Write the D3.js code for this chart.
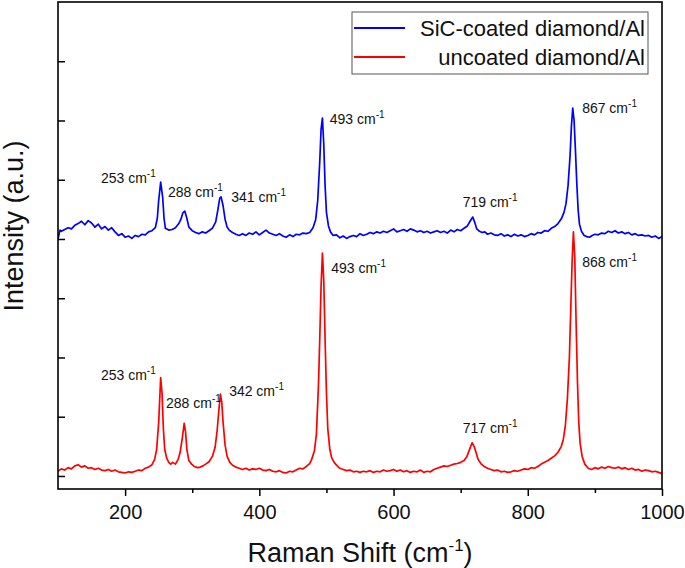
<!DOCTYPE html>
<html>
<head>
<meta charset="utf-8">
<script src="https://cdn.jsdelivr.net/npm/d3@7/dist/d3.min.js"></script>
<style>
  html, body { margin: 0; padding: 0; background: #fff; }
  svg { display: block; font-family: "Liberation Sans", Arial, sans-serif; }
</style>
</head>
<body>
<svg id="chart" width="685" height="568"></svg>
<script>
// ---------------- DATA ----------------
const xTicks = [200, 400, 600, 800, 1000];
const xMinorTicks = [300, 500, 700, 900];
const yTicks = [0, 1000, 2000, 3000, 4000, 5000, 6000, 7000];
const seriesNames = ["SiC-coated diamond/Al", "uncoated diamond/Al"];
const seriesColors = ["#0000ff", "#ff0000"];

// SiC-coated diamond/Al spectrum: [Raman shift (cm-1), intensity (a.u.)]
const sicCoated = [
 [100,4000],[103,4150],[105,4130],[110,4160],[115,4190],[120,4170],[125,4230],[130,4260],[135,4300],[140,4240],
 [145,4310],[150,4270],[155,4200],[160,4250],[165,4170],[170,4210],[175,4150],[180,4190],[185,4120],[190,4060],
 [195,4090],[200,4030],[205,4050],[210,4010],[215,4060],[220,4040],[225,4080],[230,4070],[235,4120],[240,4140],
 [245,4190],[248,4350],[250,4650],[253,4960],[256,4700],[258,4350],[260,4180],[265,4150],[270,4160],[275,4190],
 [280,4260],[283,4330],[286,4440],[289,4470],[292,4350],[295,4200],[300,4140],[305,4110],[310,4090],[315,4120],
 [320,4100],[325,4140],[330,4180],[335,4290],[338,4480],[341,4690],[343,4710],[346,4560],[349,4330],[352,4200],
 [355,4150],[360,4110],[365,4080],[370,4060],[375,4090],[380,4060],[385,4100],[390,4080],[395,4120],[400,4070],
 [405,4110],[410,4150],[415,4100],[420,4080],[425,4060],[430,4090],[435,4050],[440,4030],[445,4070],[450,4040],
 [455,4080],[460,4070],[465,4100],[470,4090],[475,4110],[480,4190],[484,4330],[487,4650],[490,5300],[492,5850],
 [494,6040],[496,5600],[498,4900],[500,4450],[503,4220],[506,4120],[510,4060],[515,4070],[520,4020],[525,4050],
 [530,4010],[535,4040],[540,4060],[545,4040],[550,4090],[555,4060],[560,4080],[565,4110],[570,4090],[575,4120],
 [580,4100],[585,4130],[590,4110],[595,4140],[600,4170],[605,4120],[610,4140],[615,4160],[620,4130],[625,4170],
 [630,4150],[635,4120],[640,4140],[645,4110],[650,4130],[655,4100],[660,4120],[665,4140],[670,4110],[675,4130],
 [680,4100],[685,4150],[690,4120],[695,4160],[700,4140],[705,4180],[710,4220],[714,4300],[718,4370],[721,4280],
 [724,4170],[728,4130],[732,4110],[736,4120],[740,4080],[745,4100],[750,4070],[755,4060],[760,4090],[765,4050],
 [770,4070],[775,4040],[780,4080],[785,4050],[790,4070],[795,4040],[800,4060],[805,4090],[810,4070],[815,4110],
 [820,4100],[825,4140],[830,4130],[835,4180],[840,4210],[845,4260],[850,4340],[854,4450],[857,4600],[860,4900],
 [863,5400],[865,5900],[867,6210],[869,6000],[871,5500],[873,4950],[875,4500],[877,4250],[880,4130],[884,4060],
 [888,4040],[892,4030],[896,4060],[900,4080],[905,4070],[910,4100],[915,4090],[920,4130],[925,4110],[930,4140],
 [935,4100],[940,4120],[945,4090],[950,4110],[955,4070],[960,4090],[965,4060],[970,4070],[975,4050],[980,4060],
 [985,4030],[990,4050],[995,4010],[1000,4040]
];

// uncoated diamond/Al spectrum: [Raman shift (cm-1), intensity (a.u.)]
const uncoated = [
 [100,80],[105,120],[110,100],[115,140],[120,120],[125,170],[130,190],[135,150],[140,170],[145,130],
 [150,140],[155,110],[160,130],[165,100],[170,90],[175,110],[180,80],[185,100],[190,70],[195,60],
 [200,50],[205,70],[210,60],[215,80],[220,100],[225,90],[230,130],[235,150],[240,190],[244,280],
 [247,450],[250,900],[253,1660],[255,1400],[257,800],[259,450],[262,300],[265,230],[268,200],[271,230],
 [275,200],[279,280],[282,400],[285,620],[288,890],[290,750],[292,450],[295,260],[299,200],[303,160],
 [308,140],[312,150],[316,170],[320,200],[325,240],[330,330],[334,480],[337,750],[340,1150],[342,1380],
 [344,1250],[346,900],[349,520],[352,330],[356,230],[360,180],[365,150],[370,130],[375,110],[380,130],
 [385,100],[390,120],[395,110],[400,130],[405,100],[410,90],[415,110],[420,80],[425,70],[430,90],
 [435,60],[440,50],[445,80],[450,70],[455,100],[460,130],[465,120],[470,160],[475,210],[478,280],
 [482,420],[485,700],[488,1500],[490,2300],[492,3200],[494,3760],[496,3300],[498,2300],[500,1400],[502,800],
 [505,450],[508,300],[512,220],[516,170],[520,130],[525,110],[530,90],[535,100],[540,70],[545,80],
 [550,60],[555,80],[560,70],[565,90],[570,60],[575,80],[580,70],[585,100],[590,80],[595,90],
 [600,110],[605,80],[610,100],[615,70],[620,90],[625,60],[630,80],[635,70],[640,100],[645,60],
 [650,80],[655,70],[660,110],[665,130],[670,150],[675,170],[680,160],[685,180],[690,200],[695,210],
 [700,230],[705,260],[709,320],[713,440],[717,560],[720,500],[723,390],[726,280],[730,210],[735,160],
 [740,130],[745,110],[750,90],[755,100],[760,70],[765,80],[770,60],[775,70],[780,90],[785,80],
 [790,100],[795,120],[800,110],[805,140],[810,130],[815,160],[820,200],[825,230],[830,260],[835,300],
 [840,340],[845,400],[850,500],[853,620],[856,850],[859,1300],[862,2000],[864,2800],[866,3600],[868,4120],
 [870,3700],[872,2600],[874,1600],[876,900],[878,550],[881,330],[885,200],[890,130],[895,110],[900,140],
 [905,120],[910,150],[915,130],[920,160],[925,140],[930,130],[935,150],[940,120],[945,140],[950,110],
 [955,130],[960,100],[965,110],[970,80],[975,100],[980,90],[985,70],[990,80],[995,60],[1000,40]
];

// Peak annotations: label text and anchor in data space [shift, intensity]
const sicLabels = [
 ["253", 164, 4945], ["288", 264, 4709], ["341", 358, 4624],
 ["493", 505, 5941], ["719", 703, 4540], ["867", 881, 6127]
];
const uncoatedLabels = [
 ["253", 164, 1620], ["288", 261, 1148], ["342", 355, 1350],
 ["493", 507, 3426], ["717", 703, 726], ["868", 881, 3527]
];

// ---------------- CHART ----------------
const svg = d3.select("#chart");
const mLeft = 58, mRight = 662, mTop = 2, mBottom = 489;

const x = d3.scaleLinear().domain([100, 1000]).range([mLeft, mRight]);
const y = d3.scaleLinear().domain([-220, 8000]).range([mBottom, mTop]);

svg.append("defs").append("clipPath").attr("id", "clip")
  .append("rect").attr("x", mLeft).attr("y", mTop).attr("width", mRight - mLeft).attr("height", mBottom - mTop);

// lines
const line = d3.line().x(d => x(d[0])).y(d => y(d[1]));
const lines = svg.append("g").attr("clip-path", "url(#clip)");
lines.append("path").datum(uncoated)
  .attr("d", line).attr("fill", "none").attr("stroke", seriesColors[1])
  .attr("stroke-width", 1.7).attr("stroke-linejoin", "round");
lines.append("path").datum(sicCoated)
  .attr("d", line).attr("fill", "none").attr("stroke", seriesColors[0])
  .attr("stroke-width", 1.7).attr("stroke-linejoin", "round");

// x axis (major + minor)
const xAxis = svg.append("g").attr("transform", `translate(0,${mBottom})`)
  .call(d3.axisBottom(x).tickValues(xTicks).tickFormat(d3.format("d"))
    .tickSize(7).tickSizeOuter(0).tickPadding(9));
xAxis.select(".domain").remove();
xAxis.selectAll("line").attr("stroke", "#000").attr("stroke-width", 1.5);
xAxis.selectAll("text").attr("font-size", 20).attr("fill", "#111")
  .attr("font-family", "'Liberation Sans', Arial, sans-serif");

const xMinor = svg.append("g").attr("transform", `translate(0,${mBottom})`)
  .call(d3.axisBottom(x).tickValues(xMinorTicks).tickSize(4).tickSizeOuter(0).tickFormat(""));
xMinor.select(".domain").remove();
xMinor.selectAll("line").attr("stroke", "#000").attr("stroke-width", 1.5);

// y axis (inward ticks, no labels)
const yAxis = svg.append("g").attr("transform", `translate(${mLeft},0)`)
  .call(d3.axisLeft(y).tickValues(yTicks).tickSizeInner(-7).tickSizeOuter(0).tickFormat(""));
yAxis.select(".domain").remove();
yAxis.selectAll("line").attr("stroke", "#000").attr("stroke-width", 1.5);

// frame
svg.append("rect").attr("x", mLeft).attr("y", mTop).attr("width", mRight - mLeft).attr("height", mBottom - mTop)
  .attr("fill", "none").attr("stroke", "#000").attr("stroke-width", 1.6);

// peak labels
function addLabels(list) {
  list.forEach(([t, sx, iv]) => {
    const txt = svg.append("text").attr("x", x(sx)).attr("y", y(iv))
      .attr("font-size", 14).attr("fill", "#111");
    txt.append("tspan").text(t + " cm");
    txt.append("tspan").attr("font-size", 10).attr("dy", -6).text("-1");
  });
}
addLabels(sicLabels);
addLabels(uncoatedLabels);

// axis titles
const xt = svg.append("text").attr("x", (mLeft + mRight) / 2).attr("y", 562)
  .attr("text-anchor", "middle").attr("font-size", 27).attr("fill", "#111");
xt.append("tspan").text("Raman Shift (cm");
xt.append("tspan").attr("font-size", 17).attr("dy", -11).text("-1");
xt.append("tspan").attr("dy", 11).text(")");

svg.append("text").attr("transform", "translate(23,226) rotate(-90)")
  .attr("text-anchor", "middle").attr("font-size", 27).attr("fill", "#111")
  .text("Intensity (a.u.)");

// legend
const lg = svg.append("g");
lg.append("rect").attr("x", 352).attr("y", 12).attr("width", 296).attr("height", 62)
  .attr("fill", "#fff").attr("stroke", "#555").attr("stroke-width", 1);
seriesNames.forEach((name, i) => {
  const yy = 28 + i * 29;
  lg.append("line").attr("x1", 354).attr("x2", 405).attr("y1", yy).attr("y2", yy)
    .attr("stroke", seriesColors[i]).attr("stroke-width", 2);
  lg.append("text").attr("x", 645).attr("y", yy + 8).attr("text-anchor", "end")
    .attr("font-size", 22).attr("fill", "#111").text(name);
});
</script>
</body>
</html>
